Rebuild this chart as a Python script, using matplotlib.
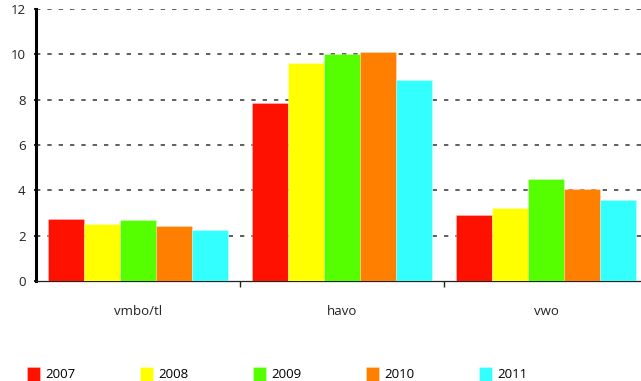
import matplotlib.pyplot as plt
import numpy as np

# Data
categories = ["vmbo/tl", "havo", "vwo"]
years = ["2007", "2008", "2009", "2010", "2011"]
values = {
    "2007": [2.75, 7.84, 2.93],
    "2008": [2.50, 9.61, 3.24],
    "2009": [2.68, 10.01, 4.52],
    "2010": [2.42, 10.10, 4.05],
    "2011": [2.27, 8.87, 3.56],
}
colors = ["#ff1100", "#ffff00", "#55ff00", "#ff8000", "#33ffff"]

plt.rcParams['font.family'] = ['Open Sans', 'DejaVu Sans']

fig = plt.figure(figsize=(6.41, 3.81), dpi=100)
# axes runs a bit past the right edge of the figure, like the original
ax = fig.add_axes([36 / 641, 100 / 381, 612 / 641, 272 / 381])

x = np.arange(len(categories))
w = 0.176
for i, yr in enumerate(years):
    ax.bar(x + (i - 2) * w, values[yr], width=w, color=colors[i],
           edgecolor=(1, 1, 1, 0.35), linewidth=0.5, label=yr, zorder=3)

ax.set_xlim(-0.5, 2.5)
ax.set_ylim(0, 12)
ax.set_yticks(range(0, 13, 2))
ax.yaxis.grid(True, color="#444444", linewidth=1.2, linestyle=(0, (2.6, 4.2)))
ax.set_axisbelow(True)
# no dashed line on top of the x axis
ax.yaxis.get_gridlines()[0].set_visible(False)

for s in ["top", "right"]:
    ax.spines[s].set_visible(False)
ax.spines["left"].set_linewidth(2.2)
ax.spines["bottom"].set_linewidth(0.9)
ax.spines["bottom"].set_color("#222222")

ax.set_xticks(x)
ax.set_xticklabels(categories, fontsize=9.5, color="#222222")
ax.tick_params(axis="x", which="major", length=0, pad=17)
ax.set_xticks([0.5, 1.5], minor=True)
ax.tick_params(axis="x", which="minor", length=4, width=1, color="#222222")
ax.tick_params(axis="y", length=3, width=1.2, direction="inout", labelsize=9.5,
               pad=6, labelcolor="#222222")

fig.legend(loc="upper left", bbox_to_anchor=(27 / 641, 11 / 381, 500 / 641, 3 / 381),
           ncol=5, mode="expand", frameon=False, fontsize=9.5,
           handlelength=1.0, handleheight=1.2, handletextpad=0.35,
           borderaxespad=0, borderpad=0)

plt.savefig("out.png", dpi=100)
